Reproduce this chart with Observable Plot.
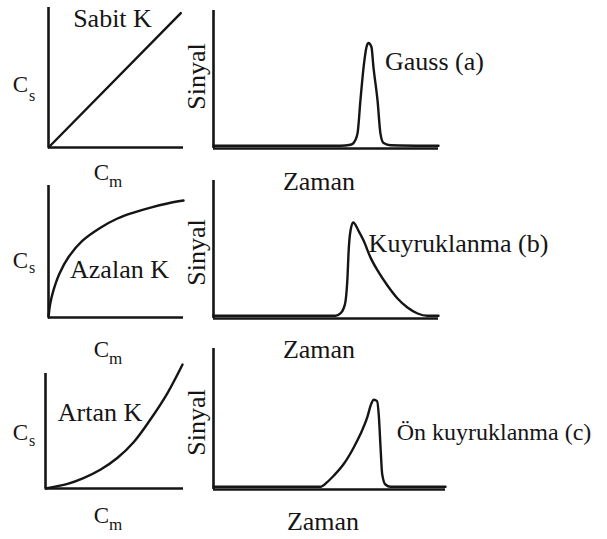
<!DOCTYPE html>
<html>
<head>
<meta charset="utf-8">
<script src="https://cdn.jsdelivr.net/npm/d3@7"></script>
<script src="https://cdn.jsdelivr.net/npm/@observablehq/plot@0.6"></script>
<style>
  html, body { margin: 0; padding: 0; background: #fff; }
  #chart { position: relative; width: 607px; height: 539px; overflow: hidden; background: #fff; }
  #chart svg { position: absolute; }
</style>
</head>
<body>
<div id="chart"></div>
<script>
// Isotherms (left column): stationary-phase vs mobile-phase concentration
const cmLinear = [0, 0.98];
const csLinear = [0, 0.96];

const cmConcave = [0, 0.012, 0.035, 0.08, 0.15, 0.25, 0.385, 0.511, 0.63, 0.756, 0.881, 1.0];
const csConcave = [0, 0.1, 0.2, 0.33, 0.46, 0.58, 0.68, 0.75, 0.795, 0.833, 0.864, 0.886];

const cmConvex = [0, 0.16, 0.275, 0.4, 0.52, 0.64, 0.76, 0.884, 0.993];
const csConvex = [0, 0.04, 0.09, 0.165, 0.265, 0.405, 0.6, 0.83, 1.078];

// Peak profiles (right column): detector signal vs time
const tGauss = [0, 5.64, 6.09, 6.22, 6.4, 6.53, 6.67, 6.8, 6.89, 7.02, 7.11, 7.29, 7.42, 7.56, 7.87, 10];
const sGauss = [0, 0, 0.008, 0.02, 0.09, 0.335, 0.58, 0.73, 0.76, 0.73, 0.58, 0.335, 0.09, 0.02, 0.004, 0];

const tTail = [0, 5.42, 5.64, 5.78, 5.87, 5.96, 6.0, 6.09, 6.21, 6.44, 6.67, 6.98, 7.29, 7.73, 8.18, 8.62, 9.07, 9.51, 10];
const sTail = [0, 0, 0.017, 0.054, 0.11, 0.3, 0.46, 0.63, 0.69, 0.63, 0.556, 0.43, 0.335, 0.224, 0.128, 0.061, 0.017, 0, 0];

const tFront = [0, 4.61, 4.9, 5.19, 5.62, 6.05, 6.34, 6.63, 6.8, 6.91, 7.05, 7.13, 7.2, 7.27, 7.41, 7.63, 10];
const sFront = [0, 0, 0.033, 0.081, 0.166, 0.286, 0.383, 0.503, 0.6, 0.629, 0.619, 0.503, 0.286, 0.093, 0.016, 0, 0];

// Panel captions
const isothermNames = ["Sabit K", "Azalan K", "Artan K"];
const peakNames = ["Gauss (a)", "Kuyruklanma (b)", "Ön kuyruklanma (c)"];
const xLabelLeft = ["C", "m"];
const yLabelLeft = ["C", "s"];
const xLabelRight = "Zaman";
const yLabelRight = "Sinyal";

const INK = "#151515";
const FONT = "Liberation Serif";

function label(frame, text, px, py, opts = {}) {
  return Plot.text([text], {
    text: d => d,
    frameAnchor: "top-left",
    dx: px - frame[0],
    dy: py - frame[2],
    fontSize: 26,
    fontFamily: FONT,
    textAnchor: "middle",
    lineAnchor: "middle",
    fill: INK,
    ...opts
  });
}

function panel({cell, frame, xDomain, yDomain, xs, ys, curve, texts}) {
  const [x0, x1, y0, y1] = frame;
  const pts = xs.map((x, i) => ({x, y: ys[i]}));
  const svg = Plot.plot({
    width: cell.w,
    height: cell.h,
    marginLeft: x0 - cell.left,
    marginRight: cell.left + cell.w - x1,
    marginTop: y0 - cell.top,
    marginBottom: cell.top + cell.h - y1,
    x: {domain: xDomain, axis: null},
    y: {domain: yDomain, axis: null},
    style: {fontFamily: FONT, background: "transparent", overflow: "visible"},
    marks: [
      Plot.ruleX([xDomain[0]], {stroke: INK, strokeWidth: 2.6}),
      Plot.ruleY([yDomain[0]], {stroke: INK, strokeWidth: 2.6}),
      Plot.line(pts, {x: "x", y: "y", curve: curve || "monotone-x", stroke: INK, strokeWidth: 2.4}),
      ...texts(frame)
    ]
  });
  svg.setAttribute("font-family", FONT);
  svg.style.left = cell.left + "px";
  svg.style.top = cell.top + "px";
  document.getElementById("chart").appendChild(svg);
}

function leftLabels(cx, cy, sx, sy, mx, my, mSubX, mSubY) {
  return f => [
    label(f, yLabelLeft[0], cx, cy, {fontSize: 23}),
    label(f, yLabelLeft[1], sx, sy, {fontSize: 16, textAnchor: "start"}),
    label(f, xLabelLeft[0], mx, my, {fontSize: 23}),
    label(f, xLabelLeft[1], mSubX, mSubY, {fontSize: 17, textAnchor: "start"})
  ];
}

// Row 1
panel({
  cell: {left: 0, top: 0, w: 190, h: 195},
  frame: [48, 183, 7, 147],
  xDomain: [0, 1], yDomain: [0, 1],
  xs: cmLinear, ys: csLinear,
  curve: "linear",
  texts: f => [
    label(f, isothermNames[0], 112, 18.5),
    ...leftLabels(20, 84.5, 28.5, 95, 101, 172.5, 108.5, 181)(f)
  ]
});
panel({
  cell: {left: 185, top: 0, w: 422, h: 195},
  frame: [213, 438, 10, 148],
  xDomain: [0, 10], yDomain: [-0.02, 1],
  xs: tGauss, ys: sGauss,
  texts: f => [
    label(f, peakNames[0], 434, 61.5),
    label(f, yLabelRight, 196, 76, {rotate: -90}),
    label(f, xLabelRight, 318.5, 181.5)
  ]
});

// Row 2
panel({
  cell: {left: 0, top: 175, w: 190, h: 195},
  frame: [48, 183, 185, 317],
  xDomain: [0, 1], yDomain: [0, 1],
  xs: cmConcave, ys: csConcave,
  curve: "catmull-rom",
  texts: f => [
    label(f, isothermNames[1], 119, 269.5),
    ...leftLabels(20, 260, 28.5, 267, 101, 349.5, 108.5, 358)(f)
  ]
});
panel({
  cell: {left: 185, top: 175, w: 422, h: 195},
  frame: [213, 438, 180, 318],
  xDomain: [0, 10], yDomain: [-0.02, 1],
  xs: tTail, ys: sTail,
  texts: f => [
    label(f, peakNames[1], 458, 243.5),
    label(f, yLabelRight, 196, 252, {rotate: -90}),
    label(f, xLabelRight, 318.5, 349.5)
  ]
});

// Row 3
panel({
  cell: {left: 0, top: 340, w: 190, h: 199},
  frame: [45, 183, 373, 488],
  xDomain: [0, 1], yDomain: [0, 1],
  xs: cmConvex, ys: csConvex,
  curve: "catmull-rom",
  texts: f => [
    label(f, isothermNames[2], 99.5, 412),
    ...leftLabels(20, 432.5, 28.5, 440, 101, 515.5, 108.5, 524)(f)
  ]
});
panel({
  cell: {left: 185, top: 340, w: 422, h: 199},
  frame: [213, 445, 348, 489],
  xDomain: [0, 10], yDomain: [-0.02, 1],
  xs: tFront, ys: sFront,
  texts: f => [
    label(f, peakNames[2], 493.5, 431.5, {fontSize: 24}),
    label(f, yLabelRight, 196, 422, {rotate: -90}),
    label(f, xLabelRight, 322.5, 521.5)
  ]
});
</script>
</body>
</html>
